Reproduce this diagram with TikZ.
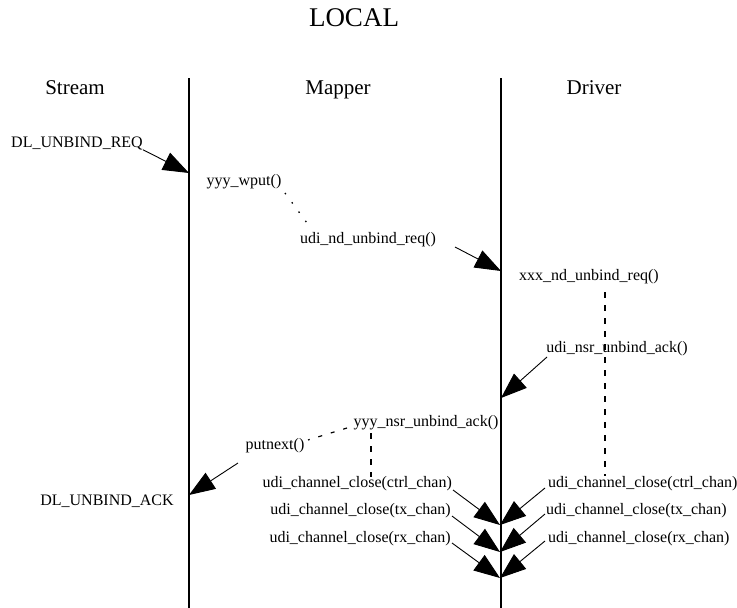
\documentclass[tikz,border=0pt]{standalone}
\usepackage{fontspec}
\setmainfont{Liberation Serif}
\usetikzlibrary{arrows.meta}
\tikzset{
  call/.style={font=\fontsize{16}{19}\selectfont,inner sep=0pt},
  head/.style={font=\fontsize{21}{25}\selectfont,inner sep=0pt,anchor=base},
  msg/.style={line width=0.9pt,-{Triangle[length=26pt,width=19pt]}},
  life/.style={line width=2pt},
  wait/.style={line width=2pt,dash pattern=on 6pt off 7pt},
  hop/.style={line width=1.2pt,dash pattern=on 4pt off 9pt},
  dots/.style={line width=1.3pt,dash pattern=on 1.5pt off 10pt}
}
\begin{document}
\begin{tikzpicture}[x=1pt,y=-1pt]
\useasboundingbox (0,0) rectangle (737,608);
\node [font=\fontsize{27}{31}\selectfont,inner sep=0pt] (local) at (354,18) {LOCAL};
\node [head] (stream) at (75,94) {Stream};
\node [head] (mapper) at (338,94) {Mapper};
\node [head] (driver) at (594,94) {Driver};
\coordinate (S1) at (189,78);
\coordinate (S2) at (189,608);
\coordinate (D1) at (501,78);
\coordinate (D2) at (501,608);
\draw [life] (S1) -- (S2);
\draw [life] (D1) -- (D2);
\node [call] (req) at (77,143) {DL\_UNBIND\_REQ};
\node [call] (wput) at (244,182) {yyy\_wput()};
\node [call] (ndreq) at (368,240) {udi\_nd\_unbind\_req()};
\node [call] (xxxreq) at (589,277) {xxx\_nd\_unbind\_req()};
\node [call] (nsrack) at (617,349) {udi\_nsr\_unbind\_ack()};
\node [call] (yyyack) at (426,423) {yyy\_nsr\_unbind\_ack()};
\node [call] (putnext) at (275,446) {putnext()};
\node [call] (ack) at (107,501) {DL\_UNBIND\_ACK};
\node [call,anchor=east] (mctrl) at (452,484) {udi\_channel\_close(ctrl\_chan)};
\node [call,anchor=east] (mtx) at (451,511) {udi\_channel\_close(tx\_chan)};
\node [call,anchor=east] (mrx) at (451,539) {udi\_channel\_close(rx\_chan)};
\node [call,anchor=west] (dctrl) at (548,484) {udi\_channel\_close(ctrl\_chan)};
\node [call,anchor=west] (dtx) at (546,511) {udi\_channel\_close(tx\_chan)};
\node [call,anchor=west] (drx) at (548,539) {udi\_channel\_close(rx\_chan)};
\coordinate (A1) at (189,173);
\coordinate (W1) at (285,193);
\coordinate (W2) at (307,223);
\coordinate (B0) at (455,247);
\coordinate (B1) at (501,271);
\coordinate (C0) at (547,357);
\coordinate (C1) at (501,398);
\coordinate (P1) at (347,428);
\coordinate (P2) at (308,440);
\coordinate (E0) at (238,463);
\coordinate (E1) at (189,495);
\coordinate (M1) at (371,433);
\coordinate (M2) at (371,477);
\coordinate (X1) at (605,292);
\coordinate (X2) at (605,476);
\coordinate (L1) at (453,490);
\coordinate (L2) at (452,516);
\coordinate (L3) at (452,543);
\coordinate (R1) at (545,488);
\coordinate (R2) at (545,514);
\coordinate (R3) at (545,541);
\coordinate (T1) at (500,525);
\coordinate (T2) at (500,552);
\coordinate (T3) at (500,578);
\draw [msg] (req.south east) -- (A1);
\draw [dots] (W1) -- (W2);
\draw [msg] (B0) -- (B1);
\draw [wait] (X1) -- (X2);
\draw [msg] (C0) -- (C1);
\draw [hop] (P1) -- (P2);
\draw [wait] (M1) -- (M2);
\draw [msg] (E0) -- (E1);
\draw [msg] (L1) -- (T1);
\draw [msg] (L2) -- (T2);
\draw [msg] (L3) -- (T3);
\draw [msg] (R1) -- (T1);
\draw [msg] (R2) -- (T2);
\draw [msg] (R3) -- (T3);
\end{tikzpicture}
\end{document}
